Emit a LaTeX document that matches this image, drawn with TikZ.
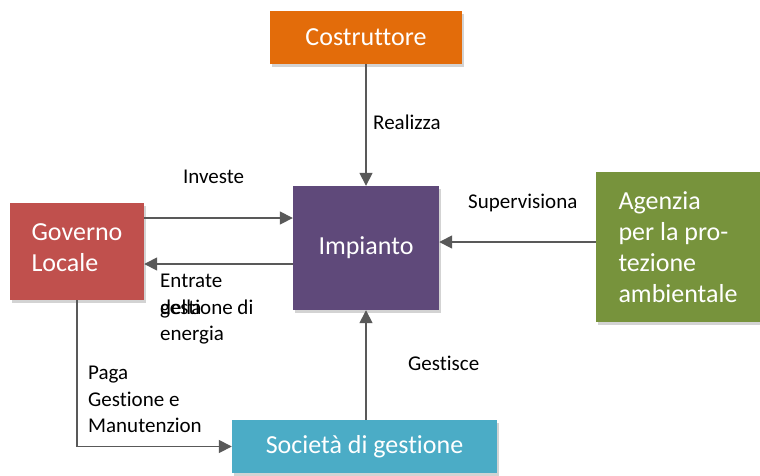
\documentclass[tikz,border=0pt]{standalone}
\usepackage{fontspec}
\setmainfont{Carlito}[Ligatures=NoCommon]
\usetikzlibrary{arrows.meta,shadows}
\definecolor{cOrange}{HTML}{E36C0A}
\definecolor{cPurple}{HTML}{5F497A}
\definecolor{cRed}{HTML}{C0504D}
\definecolor{cGreen}{HTML}{77933C}
\definecolor{cTeal}{HTML}{4BACC6}
\definecolor{cArrow}{HTML}{595959}
\begin{document}
\begin{tikzpicture}[x=1pt,y=-1pt,
  box/.style={rectangle, inner sep=0pt, text=white, align=left,
    font=\fontsize{26}{31}\selectfont,
    drop shadow={opacity=0.35, shadow xshift=2pt, shadow yshift=-3pt}},
  lbl/.style={inner sep=0pt, align=left, font=\fontsize{21}{26.5}\selectfont, text=black},
  conn/.style={draw=cArrow, line width=1.6pt, -{Triangle[length=13pt,width=13pt]}}]
\useasboundingbox (0,0) rectangle (760,475);
% boxes
\node[box, fill=cOrange, minimum width=192pt, minimum height=53pt] (cos) at (366,37.5) {Costruttore};
\node[box, fill=cPurple, minimum width=146pt, minimum height=124pt] (imp) at (366,248) {Impianto};
\node[box, fill=cRed, minimum width=134pt, minimum height=97pt] (gov) at (77,251.5) {Governo\\Locale\\[-23pt]};
\node[box, fill=cGreen, minimum width=164pt, minimum height=150pt] (age) at (678,247) {Agenzia\\per la pro-\\tezione\\ambientale};
\node[box, fill=cTeal, minimum width=265pt, minimum height=53pt] (soc) at (364.5,446.5) {Società di gestione};
% helper coordinates
\coordinate (yInv) at (0,218);
\coordinate (yEnt) at (0,264);
\coordinate (ySup) at (0,242);
% connectors
\draw[conn] (cos.south) -- (imp.north);
\draw[conn] (gov.east |- yInv) -- (imp.west |- yInv);
\draw[conn] (imp.west |- yEnt) -- (gov.east |- yEnt);
\draw[conn] (age.west |- ySup) -- (imp.east |- ySup);
\draw[conn] (gov.south) |- (soc.west);
\draw[conn] (soc.north -| imp.south) -- (imp.south);
% labels
\node[lbl, anchor=west] (lReal) at (373,122) {Realizza};
\node[lbl, anchor=west] (lInv) at (183,177) {Investe};
\node[lbl, anchor=west] (lSup) at (468,203) {Supervisiona};
\node[lbl, anchor=north west] (lEnt) at (160,274) {Entrate\\gestione di\\energia};
\node[lbl, anchor=north west] (lDel) at (160,274) {\phantom{Entrate}\\della\\\phantom{energia}};
\node[lbl, anchor=north west] (lPaga) at (88,366) {Paga\\Gestione e\\Manutenzion};
\node[lbl, anchor=west] (lGes) at (408,363) {Gestisce};
\end{tikzpicture}
\end{document}
